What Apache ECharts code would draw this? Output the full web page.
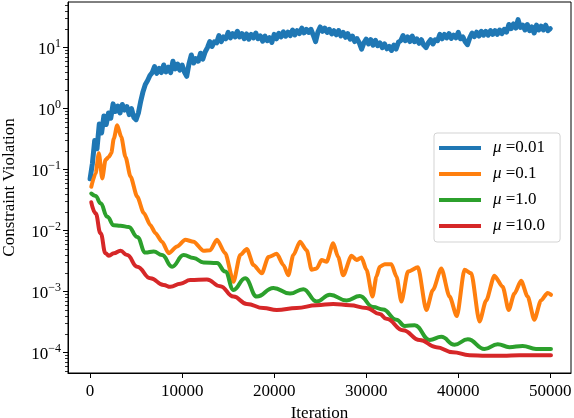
<!DOCTYPE html>
<html>
<head>
<meta charset="utf-8">
<script src="https://cdn.jsdelivr.net/npm/echarts@6/dist/echarts.min.js"></script>
<style>
html,body{margin:0;padding:0;background:#fff;}
#c{width:574px;height:418px;}
</style>
</head>
<body>
<div id="c"></div>
<script>
// ---------- data ----------
const seriesNames = ['μ =0.01', 'μ =0.1', 'μ =1.0', 'μ =10.0'];
const xTickValues = [0, 10000, 20000, 30000, 40000, 50000];
const yExponents = [-4, -3, -2, -1, 0, 1];

const iterBlue = [0,250,500,750,1000,1250,1500,1750,2000,2250,2500,2750,3000,3250,3500,3750,4000,4250,4500,4750,5000,5250,5500,5750,6000,6250,6500,6750,7000,7250,7500,7750,8000,8250,8500,8750,9000,9250,9500,9750,10000,10250,10500,10750,11000,11250,11500,11750,12000,12250,12500,12750,13000,13250,13500,13750,14000,14250,14500,14750,15000,15250,15500,15750,16000,16250,16500,16750,17000,17250,17500,17750,18000,18250,18500,18750,19000,19250,19500,19750,20000,20250,20500,20750,21000,21250,21500,21750,22000,22250,22500,22750,23000,23250,23500,23750,24000,24250,24500,24750,25000,25250,25500,25750,26000,26250,26500,26750,27000,27250,27500,27750,28000,28250,28500,28750,29000,29250,29500,29750,30000,30250,30500,30750,31000,31250,31500,31750,32000,32250,32500,32750,33000,33250,33500,33750,34000,34250,34500,34750,35000,35250,35500,35750,36000,36250,36500,36750,37000,37250,37500,37750,38000,38250,38500,38750,39000,39250,39500,39750,40000,40250,40500,40750,41000,41250,41500,41750,42000,42250,42500,42750,43000,43250,43500,43750,44000,44250,44500,44750,45000,45250,45500,45750,46000,46250,46500,46750,47000,47250,47500,47750,48000,48250,48500,48750,49000,49250,49500,49750,50000];
const valBlue = [0.071,0.126,0.30,0.22,0.56,0.40,0.76,0.55,0.85,0.70,1.2,0.90,1.1,0.85,1.17,0.95,1.08,0.80,1.0,0.72,0.66,0.85,1.32,1.9,2.5,2.9,3.5,3.9,4.9,3.8,4.6,3.9,5.2,4.0,4.8,3.9,6.0,4.5,5.4,4.3,5.2,4.0,3.4,5.5,7.6,5.6,6.6,6.0,8.1,6.5,8.5,10.0,12.6,10.5,12.5,12.0,15.8,12.6,15.0,14.0,17.8,14.5,17.0,15.0,18.6,15.0,17.0,14.0,16.8,13.8,16.5,14.5,17.4,14.0,15.6,12.8,15.5,13.0,14.6,12.2,16.5,14.0,17.2,15.0,18.2,15.4,18.0,15.8,19.5,16.2,19.0,17.0,20.9,17.5,20.0,17.8,20.0,16.0,12.6,18.0,21.9,18.5,21.0,17.8,20.0,16.8,19.0,16.2,19.1,15.6,17.8,14.8,17.0,13.8,15.5,12.6,14.1,12.0,9.5,12.0,13.8,11.5,13.5,11.0,13.2,10.8,12.0,10.0,11.5,9.6,10.5,9.0,11.0,9.5,12.3,13.0,15.8,13.0,15.0,12.6,15.5,12.5,14.0,11.8,13.5,11.0,10.0,12.0,13.5,11.5,13.5,13.0,16.6,14.0,16.5,14.5,17.0,14.2,16.0,14.5,17.8,14.0,15.0,12.5,11.2,14.5,17.4,15.2,18.0,15.5,18.6,16.0,18.5,16.0,19.1,16.5,19.0,16.5,19.5,17.0,20.0,18.0,24.0,20.5,24.5,21.0,28.8,21.5,23.5,19.5,24.0,19.0,22.0,17.4,23.4,19.5,22.5,19.5,23.4,19.0,20.5];

const iterOrange = [130,596,953,1322,1679,2037,2297,2578,2947,3380,3846,4388,5114,5829,6555,7096,7822,8537,9447,10346,11245,12329,13055,13781,14680,15579,16305,17031,17746,18656,19371,20281,20996,21538,22080,22806,23532,24073,24615,25157,25698,26413,26955,27497,28407,28949,29490,30031,30682,31115,31473,32014,32740,33282,33824,34539,35622,36532,37248,38158,39057,39848,40682,41408,42307,43032,43932,44831,45481,46099,46824,47540,48266,48991,49707,50074];
const valOrange = [0.0525,0.087,0.186,0.072,0.145,0.162,0.186,0.324,0.537,0.347,0.162,0.0776,0.0363,0.0195,0.0123,0.0091,0.0066,0.00427,0.0055,0.0071,0.0066,0.00468,0.00479,0.0071,0.00427,0.00145,0.00398,0.0050,0.00275,0.0020,0.0037,0.00417,0.00275,0.00186,0.00398,0.0066,0.00479,0.00229,0.0024,0.00331,0.00309,0.0062,0.0037,0.00186,0.00389,0.00331,0.00363,0.00229,0.00083,0.00178,0.00257,0.00282,0.00282,0.00178,0.00069,0.00214,0.00251,0.0005,0.00107,0.0024,0.00083,0.000398,0.00229,0.0020,0.000324,0.00072,0.00182,0.0012,0.0005,0.00093,0.00151,0.00083,0.000347,0.00072,0.00095,0.00089];

const iterGreen = [130,596,1138,1863,2578,3304,4204,5114,6013,6912,7822,8905,10162,11245,12329,13781,14680,15579,16847,18114,19913,21722,23163,24615,26056,27865,29306,30747,31830,33282,34181,35265,36890,38158,39598,41039,42848,44289,45557,46998,48449,50074];
const valGreen = [0.0407,0.0372,0.0282,0.0170,0.0123,0.0120,0.0115,0.0079,0.00437,0.00457,0.00398,0.00257,0.00398,0.00355,0.00302,0.00295,0.00214,0.00107,0.00166,0.00083,0.00115,0.00093,0.00110,0.00069,0.00089,0.00072,0.00085,0.00056,0.00051,0.000347,0.000275,0.000282,0.000162,0.000182,0.000135,0.000166,0.000115,0.000138,0.000123,0.000129,0.000115,0.000115];

const iterRed = [130,596,1138,1679,2037,2578,3304,4030,5114,6555,7996,8721,9805,10888,12697,14138,15579,17031,18830,20281,22448,24615,26413,28222,30031,31473,32198,33997,35806,37615,39414,41223,43032,44831,46640,50074];
const valRed = [0.0292,0.0193,0.0091,0.00427,0.00389,0.00427,0.00468,0.00398,0.00257,0.00166,0.00129,0.00120,0.00135,0.00155,0.00158,0.00123,0.00083,0.00063,0.00054,0.00050,0.00054,0.00060,0.00063,0.00060,0.00054,0.00043,0.00036,0.000234,0.000162,0.000123,0.000102,0.000091,0.000089,0.000089,0.000091,0.000091];

const colors = ['#1f77b4', '#ff7f0e', '#2ca02c', '#d62728'];
const smoothness = [0, 0.25, 0.45, 0.45];
const widths = [5, 4, 4, 4];

// ---------- build ----------
const FONT = 'Liberation Serif';
const yMin = -4.333, yMax = 1.749;
function pairs(xs, vs) { return xs.map((x, i) => [x, Math.log10(vs[i])]); }
const allSeries = [[iterBlue, valBlue], [iterOrange, valOrange], [iterGreen, valGreen], [iterRed, valRed]];

const minorVals = [];
for (let n = -5; n <= 1; n++) {
  for (let k = 2; k <= 9; k++) {
    const v = n + Math.log10(k);
    if (v > yMin && v < yMax) minorVals.push(v);
  }
}

function supLabel(v) {
  const e = Math.round(v);
  const s = e < 0 ? '\u2212' + (-e) : String(e);
  return '{b|10}{s|' + s + '}';
}

const chart = echarts.init(document.getElementById('c'), null, { renderer: 'canvas' });
chart.setOption({
  animation: false,
  backgroundColor: '#fff',
  grid: {
    left: 68, right: 3, top: 2, bottom: 45,
    show: true, borderColor: '#000', borderWidth: 1, backgroundColor: 'transparent',
    containLabel: false, outerBoundsMode: 'none'
  },
  legend: {
    orient: 'vertical',
    left: 434, top: 133,
    padding: [5, 15, 6, 5],
    itemWidth: 42, itemHeight: 4, itemGap: 6,
    icon: 'rect',
    backgroundColor: 'rgba(255,255,255,0.8)',
    borderColor: '#d3d3d3', borderWidth: 1, borderRadius: 3,
    data: seriesNames,
    formatter: function (name) { return '{m|\u03bc}{t|' + name.slice(1) + '}'; },
    textStyle: {
      fontFamily: FONT, fontSize: 17, color: '#000', lineHeight: 20,
      rich: {
        m: { fontFamily: FONT, fontStyle: 'italic', fontSize: 17, lineHeight: 20, padding: [0, 0, 0, 7], color: '#000' },
        t: { fontFamily: FONT, fontSize: 17, lineHeight: 20, color: '#000' }
      }
    }
  },
  xAxis: {
    type: 'value', min: -2400, max: 52250,
    name: 'Iteration', nameLocation: 'middle', nameGap: 28,
    nameTextStyle: { fontFamily: FONT, fontSize: 17, color: '#000' },
    axisLine: { show: true, onZero: false, lineStyle: { color: '#000', width: 1 } },
    axisTick: { show: true, length: 5, lineStyle: { color: '#000', width: 1 }, customValues: xTickValues },
    axisLabel: { show: true, margin: 10, fontFamily: FONT, fontSize: 17, color: '#000', customValues: xTickValues,
      formatter: function (v) { return String(v); } },
    splitLine: { show: false }
  },
  yAxis: [
    {
      type: 'value', min: yMin, max: yMax, position: 'left',
      name: 'Constraint Violation', nameLocation: 'middle', nameGap: 50,
      nameTextStyle: { fontFamily: FONT, fontSize: 17, color: '#000' },
      axisLine: { show: true, onZero: false, lineStyle: { color: '#000', width: 1 } },
      axisTick: { show: true, length: 5, lineStyle: { color: '#000', width: 1 }, customValues: yExponents },
      axisLabel: {
        show: true, margin: 7, customValues: yExponents, formatter: supLabel,
        rich: {
          b: { fontFamily: FONT, fontSize: 17, color: '#000', lineHeight: 20, verticalAlign: 'bottom' },
          s: { fontFamily: FONT, fontSize: 12, color: '#000', lineHeight: 12, verticalAlign: 'top' }
        }
      },
      splitLine: { show: false }
    },
    {
      type: 'value', min: yMin, max: yMax, position: 'left', offset: 0,
      axisLine: { show: false, onZero: false },
      axisTick: { show: true, length: 3, lineStyle: { color: '#000', width: 0.8 }, customValues: minorVals },
      axisLabel: { show: false },
      splitLine: { show: false }
    }
  ],
  series: allSeries.map((s, i) => ({
    name: seriesNames[i],
    type: 'line',
    yAxisIndex: 0,
    data: pairs(s[0], s[1]),
    showSymbol: false,
    symbol: 'none',
    smooth: smoothness[i],
    smoothMonotone: 'x',
    lineStyle: { color: colors[i], width: widths[i], join: 'round', cap: 'round' },
    itemStyle: { color: colors[i] },
    emphasis: { disabled: true }
  }))
});
</script>
</body>
</html>
